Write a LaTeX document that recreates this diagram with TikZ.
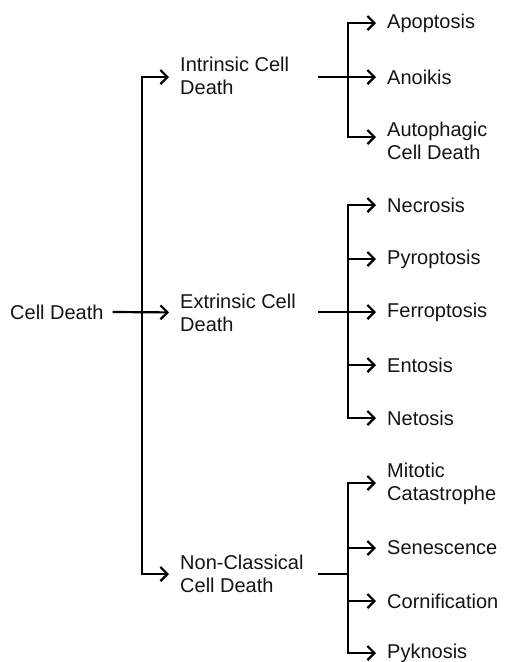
\documentclass[tikz,border=0pt]{standalone}
\usepackage{fontspec}
\setmainfont{Liberation Sans}
\usetikzlibrary{arrows.meta}
\begin{document}
\begin{tikzpicture}[x=1pt,y=-1pt,
  lbl/.style={anchor=west,inner sep=0pt,align=left,font=\fontsize{20}{23}\selectfont,text=black!92},
  conn/.style={line width=2.2pt,black,line cap=rect},
  arr/.style={conn,-{Straight Barb[length=7pt,width=14pt,line width=2.2pt]},shorten >=11pt}]
\useasboundingbox (0,0) rectangle (505,662);
% level 0 and 1
\node[lbl] (root) at (10,312) {Cell Death};
\node[lbl] (intr) at (180,76) {Intrinsic Cell\\Death};
\node[lbl] (extr) at (180,312.5) {Extrinsic Cell\\Death};
\node[lbl] (noncl) at (180,573.5) {Non-Classical\\Cell Death};
\coordinate (t1) at (142,77);
\coordinate (t3) at (142,574);
\draw[arr] (t3) -- (t1) -- (intr.west |- t1);
\draw[arr] (t1) -- (t3) -- (noncl.west |- t3);
\draw[arr] ([xshift=10pt]root.east) -- (extr.west);
% intrinsic children
\node[lbl] (apo) at (387,23) {Apoptosis};
\node[lbl] (ano) at (387,77) {Anoikis};
\node[lbl] (auto) at (387,141) {Autophagic\\Cell Death};
\coordinate (s1) at (319,77);
\coordinate (a1) at (348,23);
\coordinate (a2) at (348,77);
\coordinate (a3) at (348,137);
\draw[arr] (a3) -- (a1) -- (apo.west);
\draw[arr] (a1) -- (a3) -- ([yshift=4pt]auto.west);
\draw[arr] (s1) -- (ano.west);
% extrinsic children
\node[lbl] (nec) at (387,205) {Necrosis};
\node[lbl] (pyr) at (387,259) {Pyroptosis};
\node[lbl] (fer) at (387,312) {Ferroptosis};
\node[lbl] (ent) at (387,365) {Entosis};
\node[lbl] (net) at (387,418) {Netosis};
\coordinate (s2) at (319,312);
\coordinate (e1) at (348,205);
\coordinate (e2) at (348,259);
\coordinate (e4) at (348,365);
\coordinate (e5) at (348,418);
\draw[arr] (e5) -- (e1) -- (nec.west);
\draw[arr] (e1) -- (e5) -- (net.west);
\draw[arr] (e2) -- (pyr.west);
\draw[arr] (s2) -- (fer.west);
\draw[arr] (e4) -- (ent.west);
% non-classical children
\node[lbl] (mit) at (387,483.5) {Mitotic\\Catastrophe};
\node[lbl] (sen) at (387,548) {Senescence};
\node[lbl] (cor) at (387,601) {Cornification};
\node[lbl] (pyk) at (387,653) {Pyknosis};
\coordinate (s3) at (319,574);
\coordinate (n0) at (348,574);
\coordinate (n1) at (348,483);
\coordinate (n2) at (348,548);
\coordinate (n3) at (348,601);
\coordinate (n4) at (348,653);
\draw[arr] (n4) -- (n1) -- (mit.west |- n1);
\draw[arr] (n1) -- (n4) -- (pyk.west);
\draw[arr] (n2) -- (sen.west);
\draw[arr] (n3) -- (cor.west);
\draw[conn] (s3) -- (n0);
\end{tikzpicture}
\end{document}
